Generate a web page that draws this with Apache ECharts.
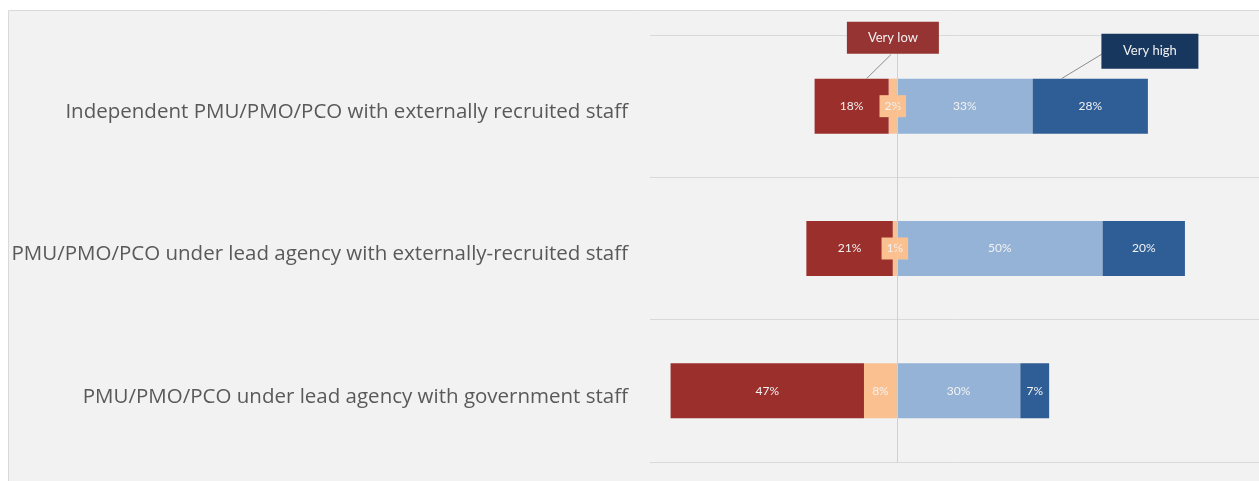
<!doctype html>
<html lang="en">
<head>
    <meta charset="UTF-8">
    <title>PMU arrangements</title>
    <script src="https://cdn.jsdelivr.net/npm/echarts@6/dist/echarts.min.js"></script>
    <style>
        html, body { margin: 0; padding: 0; background: #fff; }
        #main { width: 1259px; height: 481px; }
    </style>
</head>
<body>
<div id="main"></div>
<script>
    // categories, top to bottom
    var categories = [
        'Independent PMU/PMO/PCO with externally recruited staff',
        'PMU/PMO/PCO under lead agency with externally-recruited staff',
        'PMU/PMO/PCO under lead agency with government staff'
    ];
    // percentages
    var veryLow = [18, 21, 47];
    var low = [2, 1, 8];
    var high = [33, 50, 30];
    var veryHigh = [28, 20, 7];

    var colors = {
        veryLow: '#9b2f2c',
        low: '#fac090',
        high: '#95b3d7',
        veryHigh: '#2f5d96',
        veryLowTag: '#953432',
        veryHighTag: '#17375e'
    };

    function neg(arr) {
        return arr.map(function (v) { return -v; });
    }

    function pctLabel(p) {
        return Math.abs(p.value) + '%';
    }

    var labelStyle = {
        show: true,
        formatter: pctLabel,
        color: '#f2f2f2',
        fontFamily: 'Lato',
        fontSize: 12
    };

    var myChart = echarts.init(document.getElementById('main'));
    var option = {
        backgroundColor: '#fff',
        animation: false,
        graphic: [{
            type: 'rect',
            z: -10,
            shape: {x: 8.5, y: 10.5, width: 1260, height: 480},
            style: {fill: '#f2f2f2', stroke: '#d9d9d9', lineWidth: 1}
        }],
        grid: {left: 650, right: 0, top: 35, bottom: 19},
        xAxis: {
            type: 'value',
            min: -60,
            max: 88,
            axisLine: {show: false},
            axisTick: {show: false},
            axisLabel: {show: false},
            splitLine: {show: false}
        },
        yAxis: {
            type: 'category',
            inverse: true,
            data: categories,
            axisLine: {show: false},
            axisTick: {show: false},
            splitLine: {show: true, lineStyle: {color: '#d9d9d9', width: 1}},
            axisLabel: {
                margin: 22,
                color: '#595959',
                fontFamily: 'Open Sans',
                fontSize: 20.5,
                verticalAlign: 'top',
                lineHeight: 12
            }
        },
        series: [{
            name: 'Low',
            type: 'bar',
            stack: 'all',
            barWidth: 55,
            data: neg(low),
            itemStyle: {color: colors.low},
            label: Object.assign({}, labelStyle, {
                backgroundColor: colors.low,
                padding: [5, 5]
            }),
            markLine: {
                silent: true,
                symbol: 'none',
                label: {show: false},
                lineStyle: {color: '#d0d0d0', type: 'solid', width: 1},
                data: [{xAxis: 0}]
            }
        }, {
            name: 'Very low',
            type: 'bar',
            stack: 'all',
            data: neg(veryLow),
            itemStyle: {color: colors.veryLow},
            label: labelStyle
        }, {
            name: 'High',
            type: 'bar',
            stack: 'all',
            data: high,
            itemStyle: {color: colors.high},
            label: labelStyle
        }, {
            name: 'Very high',
            type: 'bar',
            stack: 'all',
            data: veryHigh,
            itemStyle: {color: colors.veryHigh},
            label: labelStyle
        }]
    };
    myChart.setOption(option);

    // callout tags on the first row, placed from the chart's own scale
    var zeroPt = myChart.convertToPixel({gridIndex: 0}, [0, 0]);
    var redPt = myChart.convertToPixel({gridIndex: 0}, [-(low[0] + veryLow[0] * 0.3), 0]);
    var endPt = myChart.convertToPixel({gridIndex: 0}, [high[0] + veryHigh[0], 0]);
    var dbPt = myChart.convertToPixel({gridIndex: 0}, [high[0] + veryHigh[0] * 0.25, 0]);
    var barTop = zeroPt[1] - 27.5;

    function tag(cx, top, w, h, text, fill) {
        return {
            type: 'group',
            z: 100,
            children: [{
                type: 'rect',
                z: 100,
                shape: {x: cx - w / 2, y: top, width: w, height: h},
                style: {fill: fill}
            }, {
                type: 'text',
                z: 101,
                x: cx,
                y: top + h / 2,
                style: {
                    text: text,
                    fill: '#f2f2f2',
                    font: '13px Lato',
                    align: 'center',
                    verticalAlign: 'middle'
                }
            }]
        };
    }

    myChart.setOption({
        graphic: [
            option.graphic[0],
            {
                type: 'line',
                z: 100,
                shape: {x1: zeroPt[0] - 6, y1: barTop - 24, x2: redPt[0], y2: barTop},
                style: {stroke: '#8c8c8c', lineWidth: 1}
            },
            tag(zeroPt[0] - 4, barTop - 57, 92, 32, 'Very low', colors.veryLowTag),
            {
                type: 'line',
                z: 100,
                shape: {x1: dbPt[0], y1: barTop, x2: endPt[0] - 42, y2: barTop - 27},
                style: {stroke: '#8c8c8c', lineWidth: 1}
            },
            tag(endPt[0] + 2, barTop - 45, 97, 35, 'Very high', colors.veryHighTag)
        ]
    });
</script>
</body>
</html>
